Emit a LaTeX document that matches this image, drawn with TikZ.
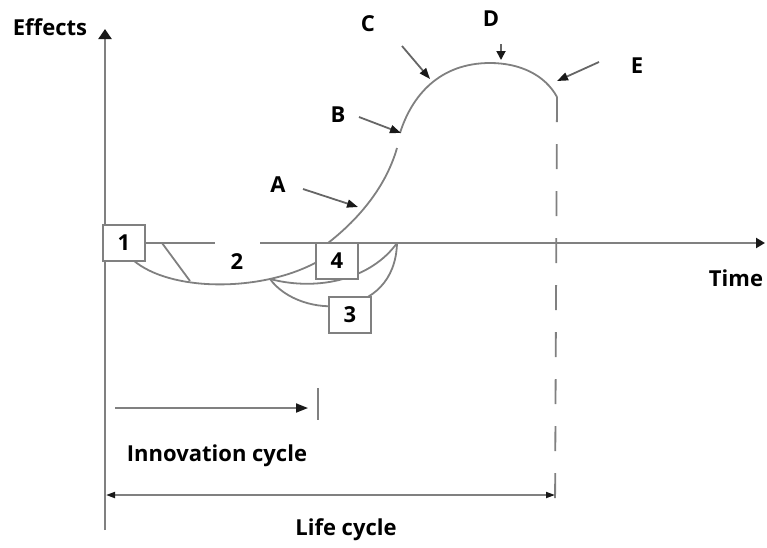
\documentclass[tikz,border=0pt]{standalone}
\usepackage{fontspec}
\setmainfont{Open Sans}
\usetikzlibrary{arrows.meta,positioning}
\definecolor{linegray}{RGB}{128,128,128}
\definecolor{tipblack}{RGB}{25,25,25}

\begin{document}
\begin{tikzpicture}[x=1pt, y=-1pt,
      lbl/.style={font=\bfseries\fontsize{22}{26}\selectfont, inner sep=0pt},
      numbox/.style={draw=linegray, line width=1.6pt, fill=white, minimum width=42pt, minimum height=36pt, inner sep=0pt, font=\bfseries\fontsize{22}{26}\selectfont},
      axis/.style={draw=linegray, line width=2.2pt},
      crv/.style={draw=linegray, line width=1.8pt},
      ptr/.style={-{Triangle[length=11pt, width=8pt, color=tipblack]}, draw=linegray!80!black, line width=1.8pt},
      dimarr/.style={draw=linegray, line width=1.8pt}
    ]
      \useasboundingbox (0,0) rectangle (767,547);

      % axes
      \coordinate (yfoot) at (105,530);
      \coordinate (ytip) at (105,29);
      \coordinate (xtip) at (765,243);
      \coordinate (gapL) at (215,243);
      \coordinate (gapR) at (260,243);

      \node[lbl] (effects) at (50,27) {Effects};
      \node[lbl] (time) at (736,278) {Time};

      \draw[axis, -{Triangle[length=10pt, width=13pt, color=tipblack]}] (yfoot) -- (ytip);

      % curves
      \coordinate (m0) at (133,260);
      \coordinate (split) at (270,279);
      \coordinate (m1) at (315,263);
      \coordinate (m2) at (328,243);
      \coordinate (pB0) at (397,148);
      \coordinate (pB1) at (400,133);
      \coordinate (peak) at (490,63);
      \coordinate (pE) at (557,97);
      \coordinate (meet) at (397,243);
      \coordinate (slant0) at (162,243);
      \coordinate (slant1) at (190,281);

      \draw[crv] (m0) .. controls (170,292) and (260,292) .. (m1);
      \draw[crv] (m1) .. controls (322,258) and (325,250) .. (m2);
      \draw[crv] (m2) .. controls (355,222) and (385,190) .. (pB0);
      \draw[crv] (pB1) .. controls (412,95) and (440,63) .. (peak)
                       .. controls (520,63) and (545,75) .. (pE);
      \draw[crv] (slant0) -- (slant1);
      \draw[crv] (split) .. controls (320,292) and (372,278) .. (meet);
      \draw[crv] (split) .. controls (300,320) and (395,320) .. (meet);

      % end of life cycle
      \coordinate (lifeEnd) at (555,513);
      \draw[dimarr, dash pattern=on 25pt off 22pt] (pE) -- (lifeEnd);

      \draw[axis, -{Triangle[length=9pt, width=10pt, color=tipblack]}] (gapR) -- (xtip);

      \node[numbox] (b1) at (124,243) {1};
      \node[numbox] (b4) at (337,261) {4};
      \node[numbox] (b3) at (350,315) {3};
      \node[lbl] (n2) at (237,262) {2};
      \draw[axis] (b1.east) -- (gapL);

      % phase labels
      \node[lbl] (lA) at (278,185) {A};
      \node[lbl] (lB) at (338,115) {B};
      \node[lbl] (lC) at (368,24) {C};
      \node[lbl] (lD) at (491,19) {D};
      \node[lbl] (lE) at (637,66) {E};
      \coordinate (tA) at (303,189);  \coordinate (hA) at (358,207);
      \coordinate (tB) at (359,117);  \coordinate (hB) at (401,133);
      \coordinate (tC) at (402,46);   \coordinate (hC) at (430,79);
      \coordinate (tD) at (501,44);   \coordinate (hD) at (501,60);
      \coordinate (tE) at (599,62);   \coordinate (hE) at (557,81);
      \draw[ptr] (tA) -- (hA);
      \draw[ptr] (tB) -- (hB);
      \draw[ptr] (tC) -- (hC);
      \draw[ptr, -{Triangle[length=9pt, width=9pt, color=tipblack]}] (tD) -- (hD);
      \draw[ptr] (tE) -- (hE);

      % cycles
      \coordinate (inoS) at (115,408);
      \coordinate (inoE) at (308,408);
      \coordinate (tickT) at (318,388);
      \coordinate (tickB) at (318,420);
      \draw[dimarr, -{Triangle[length=12pt, width=9pt, color=tipblack]}] (inoS) -- (inoE);
      \draw[dimarr] (tickT) -- (tickB);
      \node[lbl] (innov) at (217,456) {Innovation cycle};

      \coordinate (lifeS) at (106,495);
      \coordinate (lifeF) at (555,495);
      \draw[dimarr, {Triangle[length=9pt, width=6pt, color=tipblack]}-{Triangle[length=9pt, width=6pt, color=tipblack]}] (lifeS) -- (lifeF);
      \node[lbl] (life) at (346,530) {Life cycle};
    \end{tikzpicture}
\end{document}
